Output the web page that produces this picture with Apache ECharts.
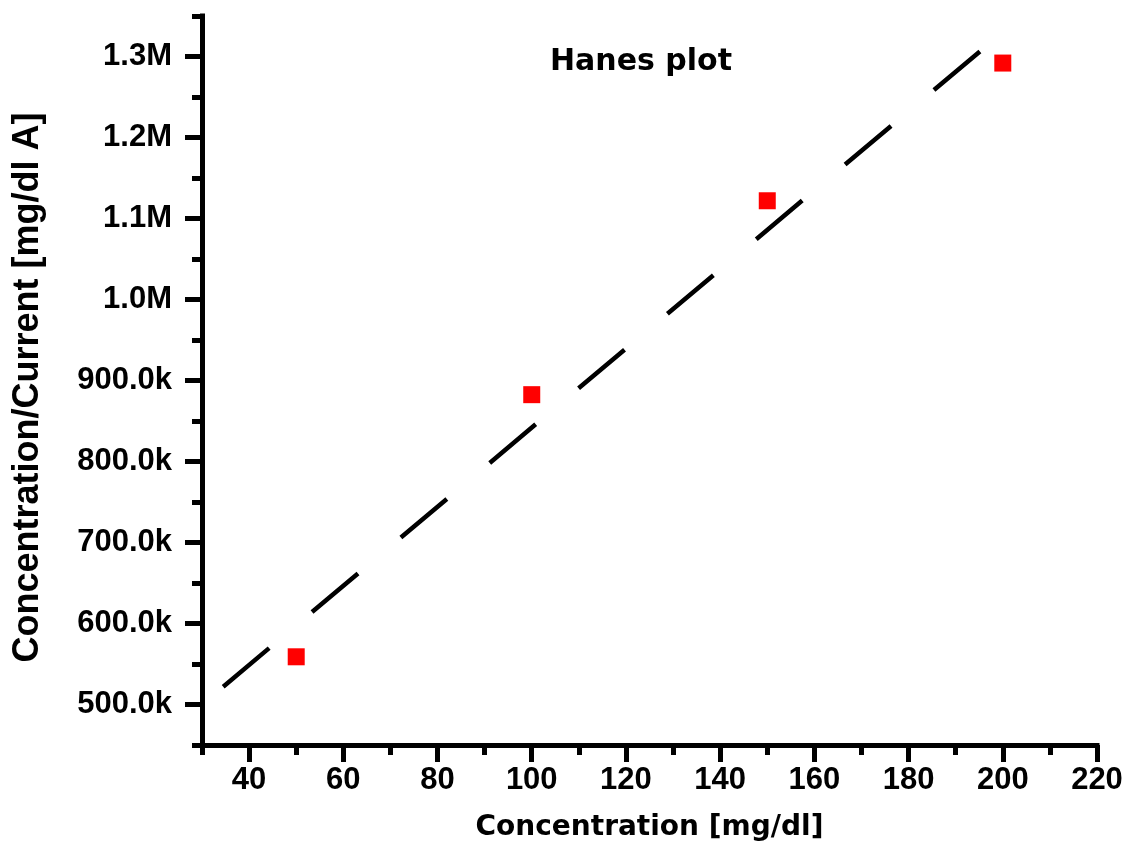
<!DOCTYPE html>
<html>
<head>
<meta charset="utf-8">
<script src="https://cdn.jsdelivr.net/npm/echarts@6/dist/echarts.min.js"></script>
<style>
  html, body { margin: 0; padding: 0; background: #fff; }
  #chart { width: 1134px; height: 848px; }
</style>
</head>
<body>
<div id="chart"></div>
<script>
// ---- data ----
const concentration = [50, 100, 150, 200];
const concOverCurrent = [558900, 882500, 1121900, 1291900];
const fitX = [34.5, 195.7];
const fitY = [522000, 1309000];

const xMajorTicks = [40, 60, 80, 100, 120, 140, 160, 180, 200, 220];
const xMinorTicks = [30, 50, 70, 90, 110, 130, 150, 170, 190, 210];
const yMajorTicks = [500000, 600000, 700000, 800000, 900000, 1000000, 1100000, 1200000, 1300000];
const yTickLabels = ['500.0k', '600.0k', '700.0k', '800.0k', '900.0k', '1.0M', '1.1M', '1.2M', '1.3M'];
const yMinorTicks = [450000, 550000, 650000, 750000, 850000, 950000, 1050000, 1150000, 1250000, 1350000];

const xRange = [30, 220];
const yRange = [450000, 1350000];

const plotTitle = 'Hanes plot';
const xTitle = 'Concentration [mg/dl]';
const yTitle = 'Concentration/Current [mg/dl A]';

const scatterData = concentration.map((x, i) => [x, concOverCurrent[i]]);
const fitData = fitX.map((x, i) => [x, fitY[i]]);

const tickFont = { fontFamily: '"Liberation Sans", Arial, sans-serif', fontWeight: 'bold', fontSize: 31, color: '#000' };

const chart = echarts.init(document.getElementById('chart'), null, { renderer: 'canvas' });

chart.setOption({
  animation: false,
  backgroundColor: '#fff',
  grid: { left: 202, right: 37, top: 16, bottom: 103, containLabel: false },
  graphic: [{
    type: 'text',
    x: 641, y: 62,
    style: {
      text: plotTitle,
      fontFamily: '"DejaVu Sans", sans-serif',
      fontWeight: 'bold',
      fontSize: 30,
      fill: '#000',
      align: 'center',
      verticalAlign: 'middle'
    }
  }],
  xAxis: [{
    type: 'value',
    position: 'bottom',
    min: xRange[0], max: xRange[1],
    splitLine: { show: false },
    axisLine: { show: true, lineStyle: { color: '#000', width: 5, cap: 'square' } },
    axisTick: { show: true, customValues: xMajorTicks, length: 17, lineStyle: { color: '#000', width: 5 } },
    axisLabel: Object.assign({ customValues: xMajorTicks, margin: 20 }, tickFont),
    name: xTitle,
    nameLocation: 'middle',
    nameGap: 69,
    nameTextStyle: { fontFamily: '"DejaVu Sans", sans-serif', fontWeight: 'bold', fontSize: 28, color: '#000' }
  }, {
    type: 'value',
    position: 'bottom',
    min: xRange[0], max: xRange[1],
    splitLine: { show: false },
    axisLine: { show: false },
    axisTick: { show: true, customValues: xMinorTicks, length: 10, lineStyle: { color: '#000', width: 5 } },
    axisLabel: { show: false }
  }],
  yAxis: [{
    type: 'value',
    position: 'left',
    min: yRange[0], max: yRange[1],
    splitLine: { show: false },
    axisLine: { show: true, lineStyle: { color: '#000', width: 5, cap: 'square' } },
    axisTick: { show: true, customValues: yMajorTicks, length: 17, lineStyle: { color: '#000', width: 5 } },
    axisLabel: Object.assign({
      customValues: yMajorTicks,
      margin: 30,
      formatter: function (v) {
        const i = yMajorTicks.indexOf(v);
        return i >= 0 ? yTickLabels[i] : '';
      }
    }, tickFont),
    name: yTitle,
    nameLocation: 'middle',
    nameRotate: 90,
    nameGap: 156,
    nameTextStyle: { fontFamily: '"Liberation Sans", Arial, sans-serif', fontWeight: 'bold', fontSize: 36, color: '#000', padding: [0, 14, 0, 0] }
  }, {
    type: 'value',
    position: 'left',
    min: yRange[0], max: yRange[1],
    splitLine: { show: false },
    axisLine: { show: false },
    axisTick: { show: true, customValues: yMinorTicks, length: 10, lineStyle: { color: '#000', width: 5 } },
    axisLabel: { show: false }
  }],
  series: [{
    type: 'line',
    name: 'fit',
    xAxisIndex: 0, yAxisIndex: 0,
    data: fitData,
    symbol: 'none',
    z: 2,
    lineStyle: { color: '#000', width: 4.5, type: [60, 56], cap: 'butt' }
  }, {
    type: 'scatter',
    name: 'data',
    xAxisIndex: 0, yAxisIndex: 0,
    data: scatterData,
    symbol: 'rect',
    symbolSize: 17,
    z: 3,
    itemStyle: { color: '#ff0000', opacity: 1 }
  }]
});
</script>
</body>
</html>
